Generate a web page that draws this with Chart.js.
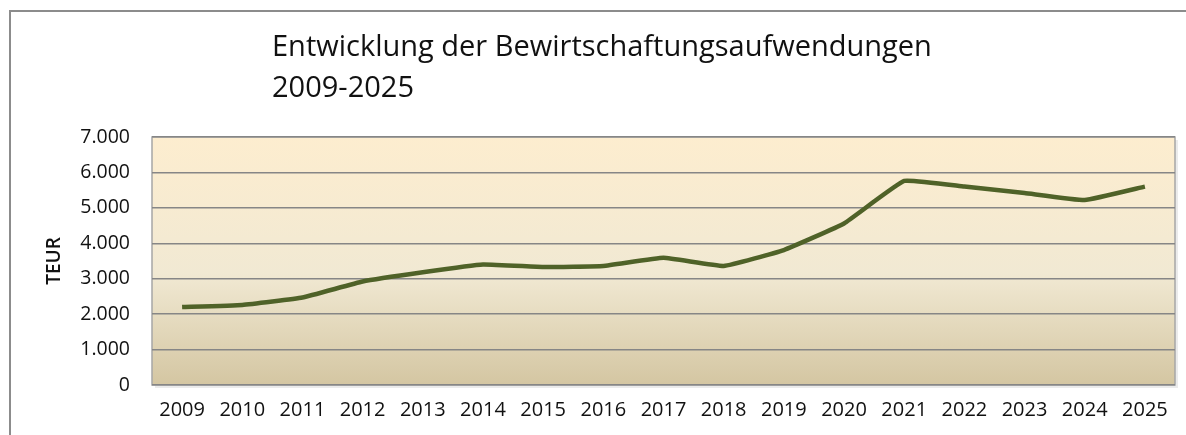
<!DOCTYPE html>
<html>
<head>
<meta charset="utf-8">
<script src="https://cdn.jsdelivr.net/npm/chart.js@4.4.1/dist/chart.umd.min.js"></script>
<style>
  html, body { margin: 0; padding: 0; background: #fff; }
  body { width: 1186px; height: 435px; overflow: hidden; position: relative; }
  #frame {
    position: absolute; left: 9px; top: 10px; width: 1300px; height: 600px;
    border-left: 2px solid #8c8c8c; border-top: 2px solid #8c8c8c;
  }
  #wrap { position: absolute; left: 0; top: 0; width: 1186px; height: 435px; }
</style>
</head>
<body>
<div id="frame"></div>
<div id="wrap"><canvas id="costChart" width="1186" height="435"></canvas></div>
<script>
const years = ['2009', '2010', '2011', '2012', '2013', '2014', '2015', '2016', '2017',
  '2018', '2019', '2020', '2021', '2022', '2023', '2024', '2025'];
const teur = [2200, 2260, 2470, 2920, 3180, 3400, 3330, 3360, 3590,
  3360, 3810, 4560, 5760, 5600, 5420, 5220, 5600];
const titleLines = ['Entwicklung der Bewirtschaftungsaufwendungen', '2009-2025'];
const yTicks = [0, 1000, 2000, 3000, 4000, 5000, 6000, 7000];

const FONT = "'Open Sans', 'Liberation Sans', sans-serif";

// plot area fill + frame, drawn under the grid
const plotBackground = {
  id: 'plotBackground',
  beforeDraw(chart) {
    const { ctx, chartArea: a } = chart;
    ctx.save();
    // soft shadow right/bottom
    ctx.fillStyle = 'rgba(0,0,0,0.08)';
    ctx.fillRect(a.left + 3, a.top + 3, a.right - a.left, a.bottom - a.top);
    const g = ctx.createLinearGradient(0, a.top, 0, a.bottom);
    g.addColorStop(0, '#fdedcf');
    g.addColorStop(0.55, '#f1e9d3');
    g.addColorStop(1, '#d4c6a2');
    ctx.fillStyle = g;
    ctx.fillRect(a.left, a.top, a.right - a.left, a.bottom - a.top);
    ctx.strokeStyle = '#a6a6a6';
    ctx.lineWidth = 1.5;
    ctx.strokeRect(a.left, a.top, a.right - a.left, a.bottom - a.top);
    ctx.restore();
  }
};

const headline = {
  id: 'headline',
  afterDraw(chart) {
    const ctx = chart.ctx;
    ctx.save();
    ctx.font = '29px ' + FONT;
    ctx.fillStyle = '#111';
    ctx.textBaseline = 'alphabetic';
    titleLines.forEach((t, i) => ctx.fillText(t, 272, 56 + i * 41));
    ctx.restore();
  }
};

new Chart(document.getElementById('costChart'), {
  type: 'line',
  data: {
    labels: years,
    datasets: [{
      label: 'TEUR',
      data: teur,
      borderColor: '#4f6228',
      borderWidth: 4.5,
      pointRadius: 0,
      tension: 0.1,
      fill: false
    }]
  },
  options: {
    responsive: false,
    animation: false,
    layout: { padding: { top: 137, right: 11, left: 0, bottom: 0 } },
    plugins: {
      legend: { display: false },
      tooltip: { enabled: false }
    },
    scales: {
      x: {
        offset: true,
        grid: { display: false, drawTicks: false },
        border: { display: false },
        ticks: { color: '#111', font: { family: FONT, size: 20 }, padding: 13, maxRotation: 0, autoSkip: false },
        afterFit(scale) { scale.height = 50; }
      },
      y: {
        min: 0,
        max: 7000,
        afterBuildTicks(scale) { scale.ticks = yTicks.map(v => ({ value: v })); },
        grid: { color: '#868686', lineWidth: 1.4, drawTicks: false },
        border: { display: false },
        ticks: {
          color: '#111',
          font: { family: FONT, size: 19.5 },
          padding: 22,
          callback: v => v.toLocaleString('de-DE')
        },
        title: {
          display: true,
          text: 'TEUR',
          color: '#111',
          font: { family: FONT, size: 19, weight: '600' },
          padding: { top: 43, bottom: 0 }
        },
        afterFit(scale) { scale.width = 152; }
      }
    }
  },
  plugins: [plotBackground, headline]
});
</script>
</body>
</html>
